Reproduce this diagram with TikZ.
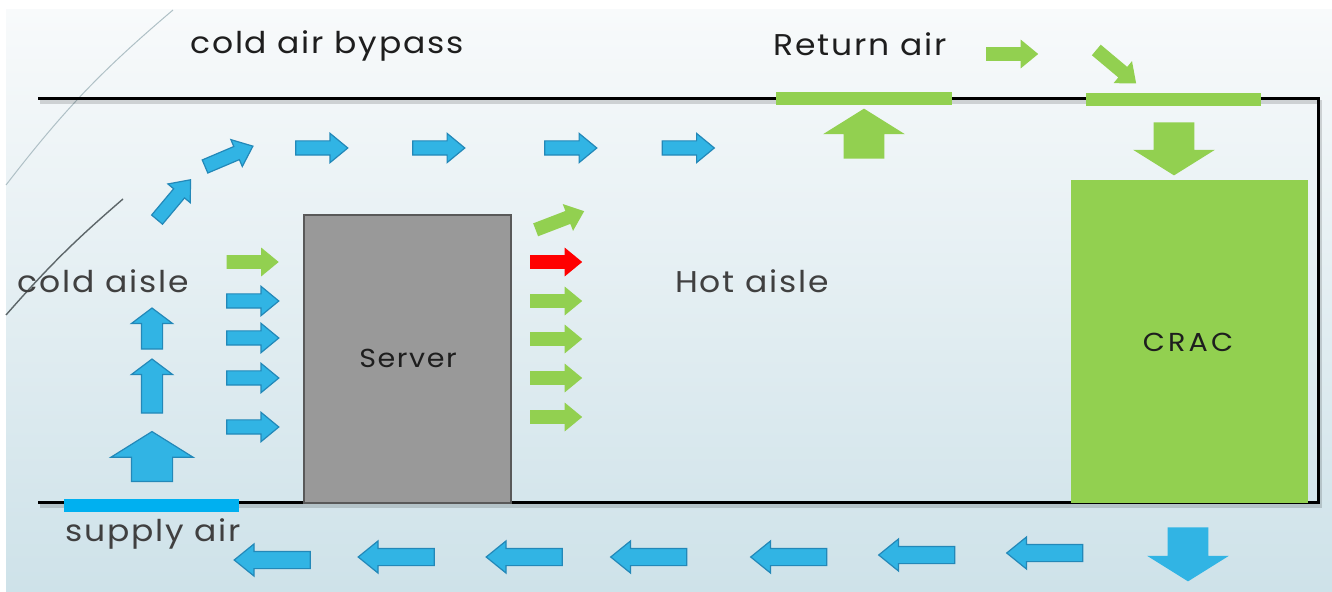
\documentclass[tikz,border=0pt]{standalone}
\usepackage{fontspec}
\setmainfont{Poppins}[FakeStretch=1.1, LetterSpace=6]
\usetikzlibrary{shapes.arrows}

\definecolor{flowblue}{HTML}{31B4E4}
\definecolor{flowblueline}{HTML}{2388B8}
\definecolor{ventblue}{HTML}{00B0F0}
\definecolor{flowgreen}{HTML}{92D050}
\definecolor{hotred}{HTML}{FF0000}
\definecolor{rackgray}{HTML}{999999}
\definecolor{rackline}{HTML}{595959}
\definecolor{bgtop}{HTML}{F8FAFB}
\definecolor{bgbottom}{HTML}{CEE2E9}
\definecolor{labeltext}{HTML}{1E1E1E}
\definecolor{softtext}{HTML}{404040}

\tikzset{
  % arrow shapes in four sizes
  arrowsmall/.style={single arrow, inner xsep=0pt, inner ysep=3.25pt,
    single arrow head extend=3.75pt, single arrow tip angle=79,
    minimum height=26pt, anchor=center},
  arrowlong/.style={single arrow, inner xsep=0pt, inner ysep=4pt,
    single arrow head extend=3.75pt, single arrow tip angle=78,
    minimum height=38pt, anchor=center},
  arrowup/.style={single arrow, inner xsep=0pt, inner ysep=5pt,
    single arrow head extend=5pt, single arrow tip angle=106, anchor=center},
  arrowblock/.style={single arrow, inner xsep=0pt, inner ysep=10pt,
    single arrow head extend=10.25pt, single arrow tip angle=116, anchor=center},
  % fills
  coldflow/.style={fill=flowblue, draw=flowblueline, line width=0.6pt},
  plainblue/.style={fill=flowblue},
  warmflow/.style={fill=flowgreen},
  hotflow/.style={fill=hotred},
  % text, placed by baseline
  biglabel/.style={font=\fontsize{15}{17}\selectfont, text=labeltext, inner sep=0pt, anchor=base},
  softlabel/.style={font=\fontsize{15}{17}\selectfont, text=softtext, inner sep=0pt, anchor=base},
  boxlabel/.style={font=\fontsize{13}{15}\selectfont, text=labeltext, inner sep=0pt, anchor=base},
  wall/.style={line width=1.5pt, black},
  wallshadow/.style={line width=2pt, black, opacity=0.15},
}

\begin{document}
\begin{tikzpicture}[x=0.5pt, y=-0.5pt]
\useasboundingbox (0,0) rectangle (1332,592);

% room background
\fill[white] (0,0) rectangle (1332,592);
\shade[top color=bgtop, bottom color=bgbottom] (6,10) rectangle (1332,592);

% decorative arcs on the left
\draw[color=black!15!bgbottom, line width=0.5pt] (6,185) to[bend left=6] (173,10);
\draw[color=black!55!bgbottom, line width=0.7pt] (6,315) to[bend left=4] (123,199);

% walls: ceiling, right side, floor
\draw[wallshadow] (40,102) -- (1320,102) -- (1320,506) -- (40,506);
\draw[wall] (38,99) -- (1318,99) -- (1318,503) -- (38,503);

% vents
\fill[flowgreen] (776,92) rectangle (952,105);
\fill[flowgreen] (1086,93) rectangle (1261,106);
\fill[ventblue] (64,499) rectangle (239,512);

% server rack and cooling unit
\node[draw=rackline, fill=rackgray, line width=0.8pt, minimum width=103.5pt, minimum height=144pt,
      inner sep=0pt] (server) at (407.5,359) {};
\node[boxlabel] (serverlabel) at (408,368) {Server};
\node[fill=flowgreen, minimum width=118.5pt, minimum height=161.5pt, inner sep=0pt]
      (crac) at (1189.5,341.5) {};
\node[boxlabel] (craclabel) at (1188,352) {\addfontfeature{LetterSpace=12}CRAC};

% labels
\node[biglabel] (bypass) at (327,54) {cold air bypass};
\node[biglabel] (returnair) at (860,56) {Return air};
\node[softlabel] (coldaisle) at (103,293) {cold aisle};
\node[softlabel] (hotaisle) at (752,293) {Hot aisle};
\node[softlabel] (supplyair) at (153,541) {supply air};

% supply air rising through the cold aisle
\node[arrowblock, coldflow, minimum height=25pt, rotate=90] (up3) at (152,463) {};
\node[arrowup, coldflow, minimum height=27pt, rotate=90] (up2) at (152,390) {};
\node[arrowup, coldflow, minimum height=20.5pt, rotate=90] (up1) at (152,332.5) {};
\node[arrowsmall, coldflow, rotate=50] (bend1) at (171,203) {};
\node[arrowsmall, coldflow, rotate=23] (bend2) at (225,158) {};

% bypass flow along the ceiling
\node[arrowsmall, coldflow] (top1) at (317.5,148) {};
\node[arrowsmall, coldflow] (top2) at (434.5,148) {};
\node[arrowsmall, coldflow] (top3) at (566.5,148) {};
\node[arrowsmall, coldflow] (top4) at (684,148) {};

% intake into the server
\node[arrowsmall, warmflow] (in1) at (248.5,262) {};
\node[arrowsmall, coldflow] (in2) at (248.5,301) {};
\node[arrowsmall, coldflow] (in3) at (248.5,338) {};
\node[arrowsmall, coldflow] (in4) at (248.5,378) {};
\node[arrowsmall, coldflow] (in5) at (248.5,427) {};

% exhaust into the hot aisle
\node[arrowsmall, warmflow, rotate=21] (out0) at (556,222) {};
\node[arrowsmall, hotflow] (out1) at (552,262) {};
\node[arrowsmall, warmflow] (out2) at (552,301) {};
\node[arrowsmall, warmflow] (out3) at (552,339) {};
\node[arrowsmall, warmflow] (out4) at (552,378) {};
\node[arrowsmall, warmflow] (out5) at (552,417) {};

% return air path to the cooling unit
\node[arrowblock, warmflow, minimum height=25pt, rotate=90] (ret1) at (864,140) {};
\node[arrowsmall, warmflow] (ret2) at (1008,54) {};
\node[arrowsmall, warmflow, rotate=-40] (ret3) at (1113,64) {};
\node[arrowblock, warmflow, minimum height=26.5pt, rotate=-90] (ret4) at (1174,142.5) {};

% cooled air leaving the unit under the floor
\node[arrowblock, plainblue, minimum height=27pt, rotate=-90] (sup0) at (1188,548) {};
\node[arrowlong, coldflow, rotate=180] (sup1) at (1050,553) {};
\node[arrowlong, coldflow, rotate=180] (sup2) at (922,555) {};
\node[arrowlong, coldflow, rotate=180] (sup3) at (794,557) {};
\node[arrowlong, coldflow, rotate=180] (sup4) at (654,557) {};
\node[arrowlong, coldflow, rotate=180] (sup5) at (529.5,557) {};
\node[arrowlong, coldflow, rotate=180] (sup6) at (401.5,557) {};
\node[arrowlong, coldflow, rotate=180] (sup7) at (277.5,560) {};
\end{tikzpicture}
\end{document}
